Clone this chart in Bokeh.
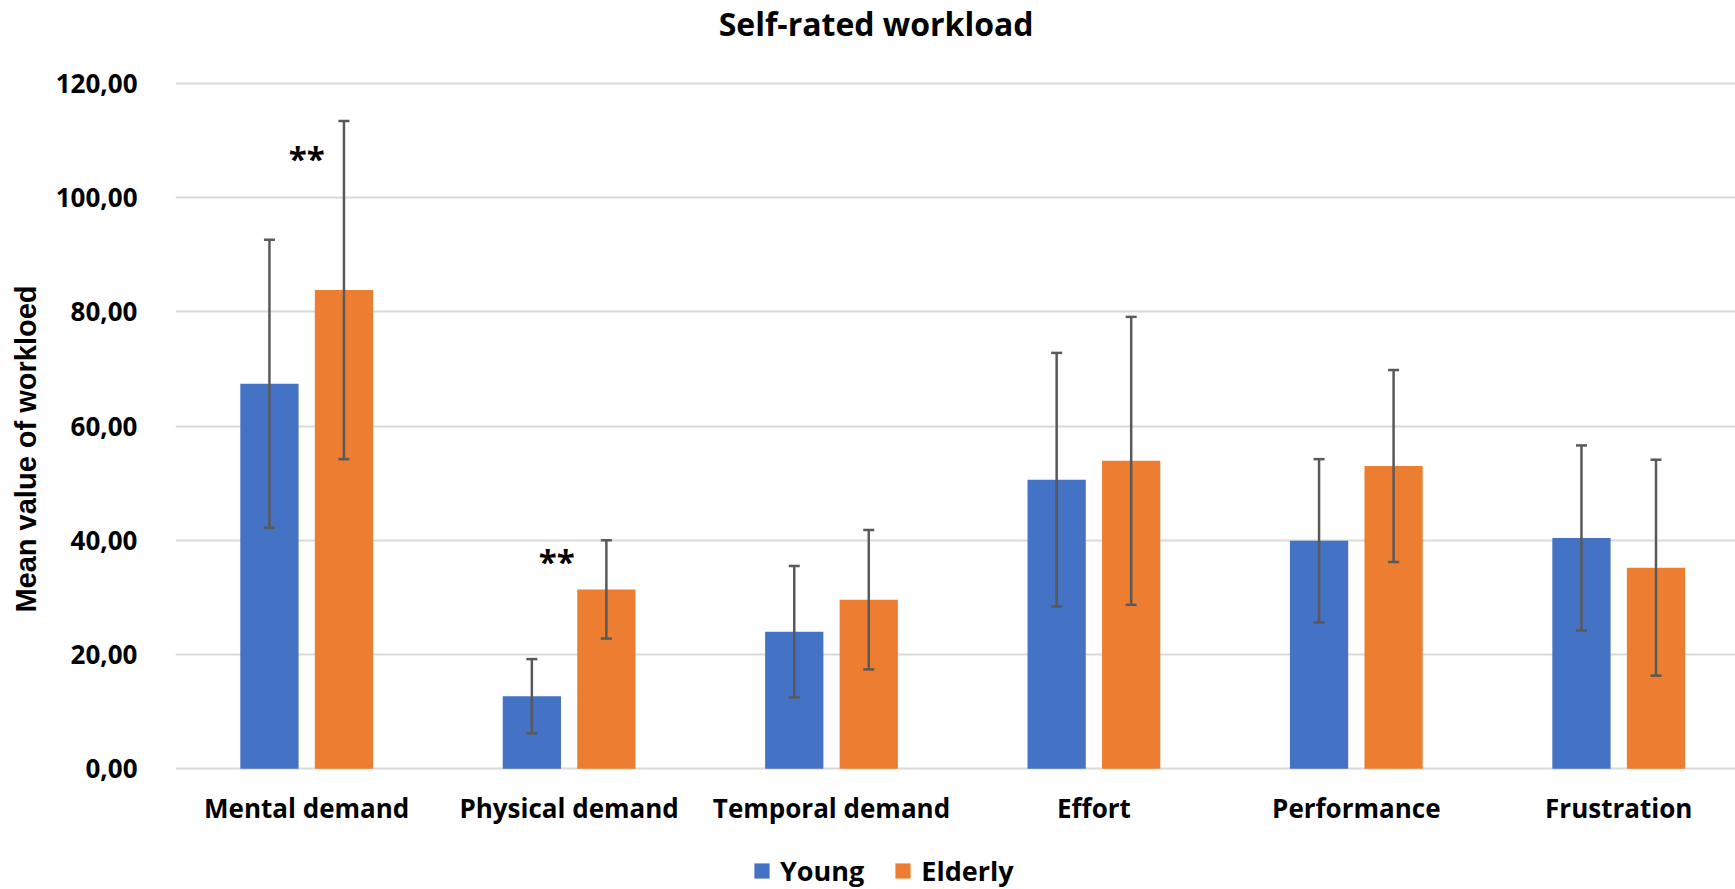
from bokeh.plotting import figure
from bokeh.models import (Range1d, FixedTicker, ColumnDataSource, Whisker, TeeHead,
                          Legend, LegendItem, Label)
from bokeh.embed import file_html
from bokeh.resources import INLINE
from bokeh.core.properties import value

# ---------------- data ----------------
categories = ["Mental demand", "Physical demand", "Temporal demand",
              "Effort", "Performance", "Frustration"]
young_mean = [67.4, 12.7, 24.0, 50.6, 39.9, 40.4]
young_sd = [25.2, 6.5, 11.5, 22.2, 14.3, 16.2]
elderly_mean = [83.8, 31.4, 29.6, 53.9, 53.0, 35.2]
elderly_sd = [29.6, 8.6, 12.2, 25.2, 16.8, 18.9]
series_names = ["Young", "Elderly"]
y_ticks = [0, 20, 40, 60, 80, 100, 120]
y_tick_labels = ["0,00", "20,00", "40,00", "60,00", "80,00", "100,00", "120,00"]
sig_category = [0, 1]          # index of category carrying a significance mark
sig_label = ["**", "**"]
sig_y = [106.8, 36.3]
chart_title = "Self-rated workload"

# ---------------- styling ----------------
BLUE = "#4472C4"
ORANGE = "#ED7D31"
ERR = "#595959"
GRID = "#D9D9D9"
FONT = "Open Sans"
OFFSET = 0.142
BAR_W = 0.222

centers = [i + 0.5 for i in range(len(categories))]
young_x = [c - OFFSET for c in centers]
elderly_x = [c + OFFSET for c in centers]

src_y = ColumnDataSource(dict(
    x=young_x, top=young_mean,
    upper=[m + s for m, s in zip(young_mean, young_sd)],
    lower=[m - s for m, s in zip(young_mean, young_sd)]))
src_e = ColumnDataSource(dict(
    x=elderly_x, top=elderly_mean,
    upper=[m + s for m, s in zip(elderly_mean, elderly_sd)],
    lower=[m - s for m, s in zip(elderly_mean, elderly_sd)]))

p = figure(width=1735, height=889,
           x_range=Range1d(0, 5.945), y_range=Range1d(-21.13, 134.48),
           output_backend="svg", toolbar_location=None,
           min_border_left=175, min_border_right=0,
           min_border_top=0, min_border_bottom=0)
p.outline_line_color = None
p.background_fill_color = "white"

# title (drawn inside the plot area, above the 120 line)
p.add_layout(Label(x=2.670, y=130.45, text=chart_title, text_font=FONT,
                   text_font_style="bold", text_font_size="32px",
                   text_color="black", text_align="center",
                   text_baseline="alphabetic"))

# bars
r_y = p.vbar(x="x", top="top", bottom=0, width=BAR_W, source=src_y,
             fill_color=BLUE, line_color=None)
r_e = p.vbar(x="x", top="top", bottom=0, width=BAR_W, source=src_e,
             fill_color=ORANGE, line_color=None)

# error bars
for src in (src_y, src_e):
    w = Whisker(base="x", upper="upper", lower="lower", source=src,
                dimension="height", line_color=ERR, line_width=2.5,
                upper_head=TeeHead(size=11, line_color=ERR, line_width=2.5),
                lower_head=TeeHead(size=11, line_color=ERR, line_width=2.5),
                level="overlay")
    p.add_layout(w)

# significance marks
sig_x = [centers[i] - (0.047 if i == 1 else 0.0) for i in sig_category]
p.text(x=sig_x, y=sig_y, text=sig_label, text_font=value(FONT),
       text_font_style="bold", text_font_size="33px", text_color="black",
       text_align="center", text_baseline="alphabetic")

# axes
p.xgrid.grid_line_color = None
p.ygrid.grid_line_color = GRID
p.ygrid.grid_line_width = 2
p.yaxis.ticker = FixedTicker(ticks=y_ticks)
p.yaxis.major_label_overrides = {t: l for t, l in zip(y_ticks, y_tick_labels)}
p.xaxis.ticker = FixedTicker(ticks=centers)
p.xaxis.major_label_overrides = {c: n for c, n in zip(centers, categories)}

for ax in (p.xaxis[0], p.yaxis[0]):
    ax.axis_line_color = None
    ax.major_tick_line_color = None
    ax.minor_tick_line_color = None
    ax.major_label_text_font = FONT
    ax.major_label_text_font_style = "bold"
    ax.major_label_text_color = "black"

p.yaxis.major_label_text_font_size = "26px"
p.yaxis.major_label_standoff = 32
p.xaxis.major_label_text_font_size = "26px"
p.xaxis.major_label_standoff = -106

p.yaxis.axis_label = "Mean value of  workloed"
p.yaxis.axis_label_text_font = "Liberation Sans"
p.yaxis.axis_label_text_font_style = "bold"
p.yaxis.axis_label_text_font_size = "29px"
p.yaxis.axis_label_text_color = "black"
p.yaxis.axis_label_standoff = 11

# legend (inside the plot area, below the category names)
legend = Legend(items=[LegendItem(label=series_names[0], renderers=[r_y]),
                       LegendItem(label=series_names[1], renderers=[r_e])],
                orientation="horizontal", location=(577, 0),
                margin=0, padding=0, spacing=29, label_standoff=9,
                glyph_width=19, glyph_height=19,
                border_line_color=None, background_fill_alpha=0,
                label_text_font=FONT, label_text_font_style="bold",
                label_text_font_size="27px", label_text_color="black")
p.add_layout(legend, "center")

open("out.html", "w").write(file_html(p, INLINE))
